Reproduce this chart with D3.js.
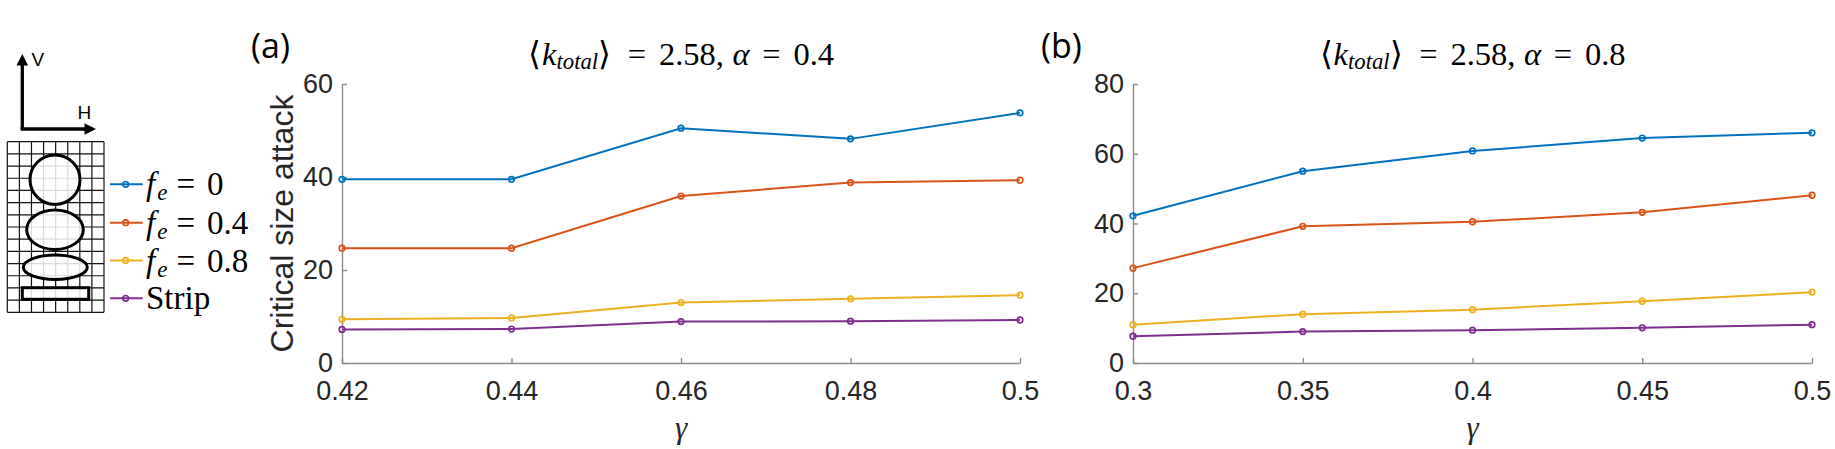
<!DOCTYPE html>
<html><head><meta charset="utf-8">
<script src="https://cdn.jsdelivr.net/npm/d3@7"></script>
<style>
body{margin:0;background:#fff;}
svg{display:block;}
</style></head>
<body>
<svg id="chart" width="1835" height="449"></svg>
<script>
// ---------- data ----------
const gammaA = [0.42, 0.44, 0.46, 0.48, 0.5];
const gammaB = [0.3, 0.35, 0.4, 0.45, 0.5];
const xTickLabelsA = ["0.42", "0.44", "0.46", "0.48", "0.5"];
const xTickLabelsB = ["0.3", "0.35", "0.4", "0.45", "0.5"];
const yTicksA = [0, 20, 40, 60];
const yTicksB = [0, 20, 40, 60, 80];
const seriesKeys = ["0", "0.4", "0.8", "Strip"];
const seriesColors = ["#0072BD", "#D95319", "#EDB120", "#7E2F8E"];
const panelA_fe0   = [39.5, 39.5, 50.5, 48.2, 53.8];
const panelA_fe04  = [24.7, 24.7, 35.9, 38.8, 39.3];
const panelA_fe08  = [9.4, 9.7, 13.0, 13.8, 14.6];
const panelA_strip = [7.2, 7.3, 8.9, 9.0, 9.25];
const panelB_fe0   = [42.2, 55.0, 60.8, 64.5, 66.0];
const panelB_fe04  = [27.2, 39.2, 40.5, 43.2, 48.1];
const panelB_fe08  = [11.0, 14.0, 15.3, 17.7, 20.3];
const panelB_strip = [7.7, 9.0, 9.4, 10.1, 11.0];
const titleAlphaA = "0.4";
const titleAlphaB = "0.8";
const yLabel = "Critical size attack";

// ---------- drawing ----------
(function () {
const svg = d3.select("#chart");
const sansFont = "'Liberation Sans', Arial, sans-serif";
const serifFont = "'Liberation Serif', 'Times New Roman', serif";
const axisColor = "#8c8c8c";
const textColor = "#262626";

const panels = [
  {x: gammaA, labels: xTickLabelsA, yTicks: yTicksA, ymax: 60, series: [panelA_fe0, panelA_fe04, panelA_fe08, panelA_strip],
   left: 342, right: 1020, tag: "(a)", tagX: 251, alpha: titleAlphaA, ylab: true},
  {x: gammaB, labels: xTickLabelsB, yTicks: yTicksB, ymax: 80, series: [panelB_fe0, panelB_fe04, panelB_fe08, panelB_strip],
   left: 1133, right: 1812, tag: "(b)", tagX: 1041, alpha: titleAlphaB, ylab: false}
];
const plotTop = 84, plotBottom = 363;

panels.forEach(p => {
  const x = d3.scaleLinear().domain([p.x[0], p.x[p.x.length - 1]]).range([p.left, p.right]);
  const y = d3.scaleLinear().domain([0, p.ymax]).range([plotBottom, plotTop]);

  const gx = svg.append("g").attr("transform", `translate(0,${plotBottom})`)
    .call(d3.axisBottom(x).tickValues(p.x).tickFormat((d, i) => p.labels[i]).tickSizeInner(-5).tickSizeOuter(0).tickPadding(18));
  const gy = svg.append("g").attr("transform", `translate(${p.left},0)`)
    .call(d3.axisLeft(y).tickValues(p.yTicks).tickFormat(d3.format("d")).tickSizeInner(-5).tickSizeOuter(0).tickPadding(9));
  [gx, gy].forEach(g => {
    g.select(".domain").attr("stroke", axisColor).attr("stroke-width", 1.4);
    g.selectAll(".tick line").attr("stroke", axisColor).attr("stroke-width", 1.4);
    g.selectAll(".tick text").attr("fill", textColor).style("font-family", sansFont).style("font-size", "27px");
  });

  p.series.forEach((vals, si) => {
    const pts = vals.map((v, i) => [p.x[i], v]);
    svg.append("path").datum(pts)
      .attr("fill", "none").attr("stroke", seriesColors[si]).attr("stroke-width", 2)
      .attr("d", d3.line().x(d => x(d[0])).y(d => y(d[1])));
    svg.append("g").selectAll("circle").data(pts).join("circle")
      .attr("cx", d => x(d[0])).attr("cy", d => y(d[1])).attr("r", 2.8)
      .attr("fill", "none").attr("stroke", seriesColors[si]).attr("stroke-width", 1.7);
  });

  // panel tag
  svg.append("text").attr("x", p.tagX).attr("y", 58).text(p.tag)
    .style("font-family", "'Open Sans', 'Noto Sans', sans-serif").style("font-size", "34px").attr("fill", "#000");

  // title
  const cx = (p.left + p.right) / 2;
  const t = svg.append("text").attr("x", cx).attr("y", 64.7).attr("text-anchor", "middle")
    .style("font-family", serifFont).style("font-size", "32.5px").attr("fill", "#000");
  t.append("tspan").text("\u27E8");
  t.append("tspan").text("k").style("font-style", "italic").attr("dx", 1);
  t.append("tspan").text("total").style("font-style", "italic").style("font-size", "0.7em").attr("dy", "0.2em");
  t.append("tspan").text("\u27E9").attr("dy", "-0.14em");
  const gaps = [
    t.append("tspan").text("=").attr("dx", 11),
    t.append("tspan").text("2.58,").attr("dx", 7),
    t.append("tspan").text("\u03B1").style("font-style", "italic").attr("dx", 3),
    t.append("tspan").text("=").attr("dx", 7),
    t.append("tspan").text(p.alpha).attr("dx", 7)
  ];
  const w = t.node().getBBox().width;
  const extra = Math.max(-3, Math.min(6, (306 - w) / gaps.length));
  gaps.forEach(g => g.attr("dx", +g.attr("dx") + extra));

  // gamma label
  svg.append("text").attr("x", cx).attr("y", 438).attr("text-anchor", "middle").text("\u03B3")
    .style("font-family", serifFont).style("font-style", "italic").style("font-size", "31px").attr("fill", textColor);

  if (p.ylab) {
    svg.append("text").attr("transform", `translate(293,${(plotTop + plotBottom) / 2}) rotate(-90)`)
      .attr("text-anchor", "middle").text(yLabel)
      .style("font-family", sansFont).style("font-size", "32px").attr("fill", textColor);
  }
});

// ---------- inset: axes arrows ----------
const ins = svg.append("g");
ins.append("line").attr("x1", 22.3).attr("y1", 129).attr("x2", 22.3).attr("y2", 64).attr("stroke", "#000").attr("stroke-width", 3.3);
ins.append("path").attr("d", "M22.3,54 L16.5,65.5 L28.1,65.5 Z").attr("fill", "#000");
ins.append("line").attr("x1", 20.6).attr("y1", 129).attr("x2", 86).attr("y2", 129).attr("stroke", "#000").attr("stroke-width", 3.3);
ins.append("path").attr("d", "M96,129 L84.5,123.2 L84.5,134.8 Z").attr("fill", "#000");
ins.append("text").attr("x", 31.5).attr("y", 66).text("V").style("font-family", sansFont).style("font-size", "19px");
ins.append("text").attr("x", 77.5).attr("y", 119).text("H").style("font-family", sansFont).style("font-size", "19px");

// grid 8 x 14
const gx0 = 7.3, gx1 = 104, gy0 = 141.7, gy1 = 312.3;
const cols = 8, rows = 14;
const grid = ins.append("g").attr("stroke", "#111").attr("stroke-width", 1.2);
d3.range(cols + 1).forEach(i => {
  const xx = gx0 + (gx1 - gx0) * i / cols;
  grid.append("line").attr("x1", xx).attr("x2", xx).attr("y1", gy0).attr("y2", gy1);
});
d3.range(rows + 1).forEach(i => {
  const yy = gy0 + (gy1 - gy0) * i / rows;
  grid.append("line").attr("y1", yy).attr("y2", yy).attr("x1", gx0).attr("x2", gx1);
});
const shp = ins.append("g").attr("fill", "#fff").attr("fill-opacity", 0.85).attr("stroke", "#000").attr("stroke-width", 3);
shp.append("ellipse").attr("cx", 55).attr("cy", 179.7).attr("rx", 25).attr("ry", 24.7);
shp.append("ellipse").attr("cx", 55).attr("cy", 229.7).attr("rx", 28.3).attr("ry", 19.7);
shp.append("ellipse").attr("cx", 55.3).attr("cy", 267.2).attr("rx", 32).attr("ry", 12.2);
shp.append("rect").attr("x", 22.3).attr("y", 287.7).attr("width", 66.4).attr("height", 11.6);

// ---------- legend ----------
const legRows = [184.3, 222.7, 260.5, 298.3];
seriesKeys.forEach((k, i) => {
  const ly = legRows[i];
  svg.append("line").attr("x1", 110).attr("x2", 142.7).attr("y1", ly).attr("y2", ly)
    .attr("stroke", seriesColors[i]).attr("stroke-width", 2);
  svg.append("circle").attr("cx", 125.7).attr("cy", ly).attr("r", 2.8)
    .attr("fill", "none").attr("stroke", seriesColors[i]).attr("stroke-width", 1.7);
  const t = svg.append("text").attr("x", 146).attr("y", ly + 11)
    .style("font-family", serifFont).style("font-size", "33px").attr("fill", "#000");
  if (k === "Strip") {
    t.text("Strip");
  } else {
    t.append("tspan").text("f").style("font-style", "italic");
    t.append("tspan").text("e").style("font-style", "italic").style("font-size", "0.7em").attr("dx", 2).attr("dy", 5);
    t.append("tspan").text("=").attr("dx", 9).attr("dy", -5);
    t.append("tspan").text(k).attr("dx", 12);
  }
});
})();
</script>
</body></html>
